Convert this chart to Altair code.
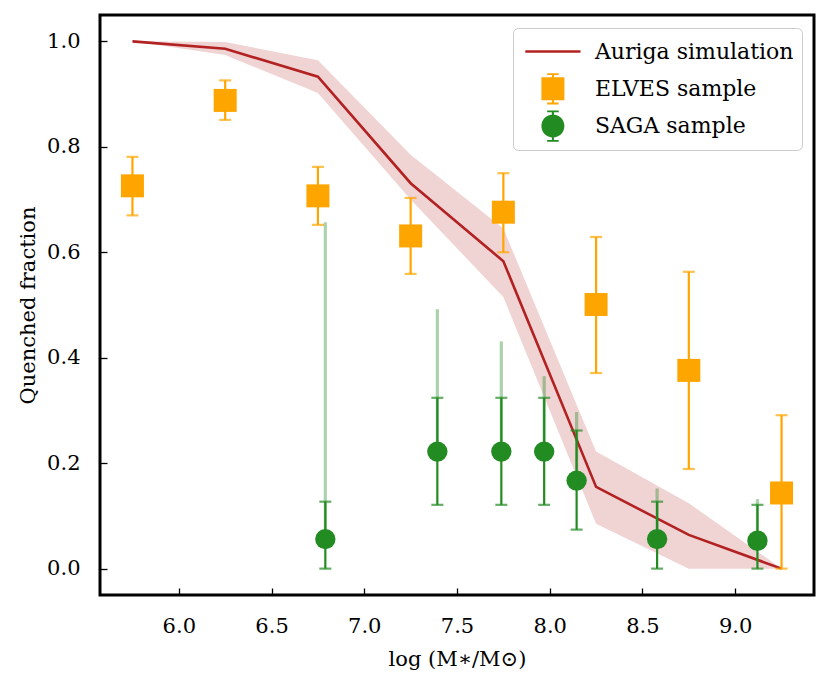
import altair as alt
import pandas as pd

# ---- data ----
x_bins = [5.75, 6.25, 6.75, 7.25, 7.75, 8.25, 8.75, 9.25]
auriga_med = [1.0, 0.986, 0.933, 0.731, 0.583, 0.155, 0.064, 0.0]
auriga_lo = [1.0, 0.974, 0.902, 0.700, 0.515, 0.085, 0.0, 0.0]
auriga_hi = [1.0, 0.999, 0.964, 0.785, 0.645, 0.222, 0.124, 0.0]

elves_val = [0.726, 0.888, 0.707, 0.631, 0.676, 0.501, 0.376, 0.1435]
elves_lo = [0.670, 0.851, 0.652, 0.559, 0.600, 0.371, 0.189, 0.0]
elves_hi = [0.781, 0.926, 0.762, 0.703, 0.750, 0.629, 0.563, 0.291]

saga_x = [6.79, 7.394, 7.739, 7.97, 8.145, 8.579, 9.12]
saga_val = [0.056, 0.222, 0.222, 0.222, 0.167, 0.056, 0.053]
saga_lo = [0.0, 0.121, 0.121, 0.121, 0.074, 0.0, 0.0]
saga_hi = [0.127, 0.324, 0.324, 0.324, 0.262, 0.127, 0.121]
saga_hi_wide = [0.657, 0.492, 0.431, 0.365, 0.297, 0.152, 0.132]

series_labels = ["Auriga simulation", "ELVES sample", "SAGA sample"]
x_ticks = [6.0, 6.5, 7.0, 7.5, 8.0, 8.5, 9.0]
y_ticks = [0.0, 0.2, 0.4, 0.6, 0.8, 1.0]

RED = "#b22222"
ORANGE = "#ffa500"
GREEN = "#228b22"
FONT = "DejaVu Serif"
FS = 21

aur = pd.DataFrame({"x": x_bins, "med": auriga_med, "lo": auriga_lo, "hi": auriga_hi})
elv = pd.DataFrame({"x": x_bins, "val": elves_val, "lo": elves_lo, "hi": elves_hi})
sag = pd.DataFrame({"x": saga_x, "val": saga_val, "lo": saga_lo, "hi": saga_hi,
                    "hiw": saga_hi_wide})
leg = pd.DataFrame({"series": series_labels, "x": [6.0] * 3, "y": [0.5] * 3})

xs = alt.Scale(domain=[5.575, 9.425], nice=False, zero=False)
ys = alt.Scale(domain=[-0.05, 1.05], nice=False, zero=False)

x_axis = alt.Axis(values=x_ticks, format=".1f", title="log (M∗/M⊙)", offset=-7,
                  tickSize=7, tickWidth=1.3, tickColor="black", domain=False, grid=False,
                  labelPadding=20, labelFont=FONT, labelFontSize=FS, labelColor="black",
                  titleFont=FONT, titleFontSize=FS, titleFontWeight="normal",
                  titleColor="black", titlePadding=12)
y_axis = alt.Axis(values=y_ticks, format=".1f", title="Quenched fraction", offset=-7,
                  tickSize=7, tickWidth=1.3, tickColor="black", domain=False, grid=False,
                  labelPadding=20, labelFont=FONT, labelFontSize=FS, labelColor="black",
                  titleFont=FONT, titleFontSize=FS, titleFontWeight="normal",
                  titleColor="black", titlePadding=8)


def X(f):
    return alt.X(f, type="quantitative", scale=xs, axis=x_axis)


def Y(f):
    return alt.Y(f, type="quantitative", scale=ys, axis=y_axis)


band = alt.Chart(aur).mark_area(color=RED, opacity=0.2).encode(
    x=X("x"), y=Y("lo"), y2=alt.Y2("hi"))
line = alt.Chart(aur).mark_line(color=RED, strokeWidth=2.6).encode(x=X("x"), y=Y("med"))

e_bar = alt.Chart(elv).mark_rule(color=ORANGE, strokeWidth=2.2).encode(
    x=X("x"), y=Y("lo"), y2=alt.Y2("hi"))
e_cap_lo = alt.Chart(elv).mark_tick(color=ORANGE, orient="horizontal", size=12,
                                    thickness=2.2).encode(x=X("x"), y=Y("lo"))
e_cap_hi = alt.Chart(elv).mark_tick(color=ORANGE, orient="horizontal", size=12,
                                    thickness=2.2).encode(x=X("x"), y=Y("hi"))
e_pts = alt.Chart(elv).mark_square(color=ORANGE, size=529, opacity=1).encode(
    x=X("x"), y=Y("val"))

s_wide = alt.Chart(sag).mark_rule(color=GREEN, strokeWidth=3.2, opacity=0.38).encode(
    x=X("x"), y=Y("val"), y2=alt.Y2("hiw"))
s_bar = alt.Chart(sag).mark_rule(color=GREEN, strokeWidth=2.2).encode(
    x=X("x"), y=Y("lo"), y2=alt.Y2("hi"))
s_cap_lo = alt.Chart(sag).mark_tick(color=GREEN, orient="horizontal", size=12,
                                    thickness=2.2).encode(x=X("x"), y=Y("lo"))
s_cap_hi = alt.Chart(sag).mark_tick(color=GREEN, orient="horizontal", size=12,
                                    thickness=2.2).encode(x=X("x"), y=Y("hi"))
s_pts = alt.Chart(sag).mark_circle(color=GREEN, size=415, opacity=1).encode(
    x=X("x"), y=Y("val"))

# legend glyphs
line_path = "M0,-1.36Z M0,1.36Z M-2.4,-0.1L2.4,-0.1L2.4,0.1L-2.4,0.1Z"
square_path = ("M-1,-1L1,-1L1,1L-1,1Z M-0.09,-1.3L0.09,-1.3L0.09,1.3L-0.09,1.3Z "
               "M-0.5,-1.36L0.5,-1.36L0.5,-1.2L-0.5,-1.2Z M-0.5,1.2L0.5,1.2L0.5,1.36L-0.5,1.36Z")
circle_path = ("M-1,0A1,1 0 1,1 1,0A1,1 0 1,1 -1,0Z M-0.09,-1.3L0.09,-1.3L0.09,1.3L-0.09,1.3Z "
               "M-0.5,-1.36L0.5,-1.36L0.5,-1.2L-0.5,-1.2Z M-0.5,1.2L0.5,1.2L0.5,1.36L-0.5,1.36Z")

legend = alt.Legend(title=" ", titleFontSize=4, titlePadding=0, orient="none",
                    legendX=413, legendY=13, padding=8,
                    rowPadding=4.3, symbolOffset=20.4, labelOffset=30.5, labelFont=FONT,
                    labelFontSize=22, labelColor="black", labelLimit=400, symbolSize=529,
                    symbolOpacity=1, symbolStrokeWidth=0, strokeColor="#cccccc",
                    fillColor="white", cornerRadius=5)

leg_layer = alt.Chart(leg).mark_point(filled=True, opacity=0, size=529).encode(
    x=X("x"), y=Y("y"),
    color=alt.Color("series:N", scale=alt.Scale(domain=series_labels,
                                                range=[RED, ORANGE, GREEN]), legend=legend),
    shape=alt.Shape("series:N", scale=alt.Scale(domain=series_labels,
                                                range=[line_path, square_path, circle_path]),
                    legend=legend),
)

chart = alt.layer(band, line, e_bar, e_cap_lo, e_cap_hi, e_pts, s_wide, s_bar, s_cap_lo,
                  s_cap_hi, s_pts, leg_layer).properties(
    width=714, height=580,
    autosize=alt.AutoSizeParams(type="none"),
    padding={"left": 92, "top": 7, "right": 6, "bottom": 80},
).configure(font=FONT).configure_view(stroke="black", strokeWidth=3)

chart.save("out.html", embed_options={"renderer": "svg", "actions": False})
